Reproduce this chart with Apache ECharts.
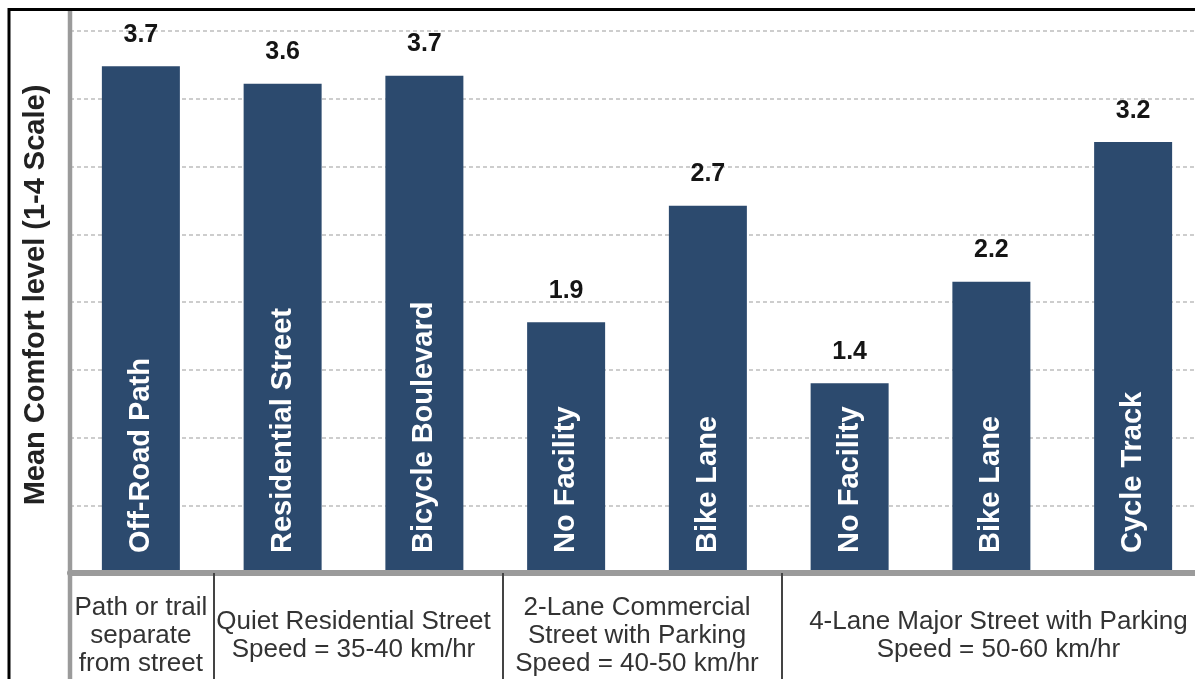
<!DOCTYPE html>
<html>
<head>
    <meta charset="UTF-8">
    <title>Mean Comfort level</title>
    <script src="https://cdn.jsdelivr.net/npm/echarts@6.0.0/dist/echarts.min.js"></script>
    <style>
        html, body {
            margin: 0;
            padding: 0;
            background-color: #fff;
        }
        #chartContainer {
            width: 1195px;
            height: 679px;
        }
    </style>
</head>
<body>
    <div id="chartContainer"></div>

    <script>
        // bars (names are printed inside the bars)
        const barNames = ['Off-Road Path', 'Residential Street', 'Bicycle Boulevard', 'No Facility',
            'Bike Lane', 'No Facility', 'Bike Lane', 'Cycle Track'];
        const comfortValues = [3.74, 3.61, 3.67, 1.85, 2.71, 1.40, 2.15, 3.18];
        const valueLabels = ['3.7', '3.6', '3.7', '1.9', '2.7', '1.4', '2.2', '3.2'];

        // street type groups under the axis
        const groupNames = [
            'Path or trail\nseparate\nfrom street',
            'Quiet Residential Street\nSpeed = 35-40 km/hr',
            '2-Lane Commercial\nStreet with Parking\nSpeed = 40-50 km/hr',
            '4-Lane Major Street with Parking\nSpeed = 50-60 km/hr'
        ];
        const groupCenters = [0.5, 2, 4, 6.55];
        const groupBounds = [1.015, 3.05, 5.02];

        const barColor = '#2c4a6e';
        const font = 'Liberation Sans, Arial, sans-serif';

        let myChart = echarts.init(document.getElementById('chartContainer'));

        const option = {
            animation: false,
            grid: {
                left: 70,
                top: 31,
                width: 1134,
                bottom: 106,
                outerBoundsMode: 'none',
                containLabel: false
            },
            xAxis: [{
                type: 'category',
                position: 'bottom',
                data: barNames,
                axisLine: { show: false },
                axisTick: { show: false },
                axisLabel: { show: false }
            }, {
                type: 'value',
                position: 'bottom',
                min: 0,
                max: 8,
                z: 5,
                splitLine: { show: false },
                axisLine: {
                    show: true,
                    lineStyle: { color: '#9b9b9b', width: 6 }
                },
                axisTick: {
                    show: true,
                    customValues: groupBounds,
                    length: 110,
                    lineStyle: { color: '#444', width: 2 }
                },
                axisLabel: {
                    show: true,
                    customValues: groupCenters,
                    formatter: v => groupNames[groupCenters.indexOf(v)],
                    margin: 63,
                    verticalAlign: 'middle',
                    fontSize: 26,
                    lineHeight: 28,
                    color: '#333',
                    fontFamily: font
                }
            }],
            yAxis: {
                type: 'value',
                min: 0,
                max: 4,
                interval: 0.5,
                axisLine: { show: false },
                axisTick: { show: false },
                axisLabel: { show: false },
                splitLine: {
                    show: true,
                    lineStyle: { color: '#bdbdbd', type: [4, 3], width: 1.5 }
                },
                name: 'Mean Comfort level (1-4 Scale)',
                nameLocation: 'middle',
                nameRotate: 90,
                nameGap: 20,
                nameTextStyle: {
                    fontSize: 29,
                    fontWeight: 'bold',
                    color: '#222',
                    fontFamily: font,
                    padding: [0, 0, 0, 14]
                }
            },
            series: [{
                type: 'bar',
                data: comfortValues,
                barWidth: 78,
                barGap: '-100%',
                itemStyle: { color: barColor },
                label: {
                    show: true,
                    position: 'insideBottom',
                    distance: 20,
                    rotate: 90,
                    align: 'left',
                    verticalAlign: 'middle',
                    formatter: p => barNames[p.dataIndex],
                    color: '#fff',
                    fontSize: 29,
                    fontWeight: 'bold',
                    fontFamily: font
                }
            }, {
                // value labels above the bars
                type: 'bar',
                data: comfortValues,
                barWidth: 78,
                barGap: '-100%',
                silent: true,
                itemStyle: { color: 'transparent' },
                label: {
                    show: true,
                    position: 'top',
                    distance: 19,
                    formatter: p => valueLabels[p.dataIndex],
                    color: '#151515',
                    fontSize: 25,
                    fontWeight: 'bold',
                    fontFamily: font
                }
            }],
            graphic: [{
                // outer frame
                type: 'rect',
                z: 100,
                shape: { x: 9, y: 9.5, width: 1300, height: 800 },
                style: { fill: 'none', stroke: '#000', lineWidth: 3 }
            }, {
                // left axis line running through the table
                type: 'line',
                z: 100,
                shape: { x1: 70, y1: 11, x2: 70, y2: 679 },
                style: { stroke: '#9b9b9b', lineWidth: 4.5 }
            }]
        };

        myChart.setOption(option);

        window.addEventListener('resize', function() {
            myChart && myChart.resize();
        });
    </script>
</body>
</html>
